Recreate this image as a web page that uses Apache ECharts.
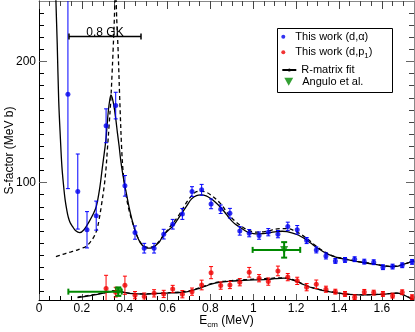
<!DOCTYPE html>
<html>
<head>
<meta charset="utf-8">
<script src="https://cdn.jsdelivr.net/npm/echarts@6/dist/echarts.min.js"></script>
<style>
  html, body { margin: 0; padding: 0; background: #fff; }
  #chart { width: 415px; height: 332px; }
</style>
</head>
<body>
<div id="chart"></div>
<script>
// ---- data ----
// This work (d,alpha)
var alphaE = [0.135,0.181,0.224,0.267,0.313,0.358,0.401,0.448,0.491,0.537,0.582,0.624,0.669,0.714,0.759,0.803,0.848,0.891,0.937,0.981,1.027,1.070,1.115,1.161,1.205,1.249,1.294,1.339,1.383,1.428,1.473,1.518,1.562,1.605,1.650,1.695,1.741];
var alphaS = [173,92.6,61,72.7,146.9,163.6,97.3,58.7,45.8,45.8,57.4,65.6,74.1,92.6,94,82.4,78,74.7,60.1,58.2,56.2,59,57.4,63.8,61,52.1,44.4,39.4,35.3,36.1,36.7,34.7,34.2,30.1,30.6,31.7,34.5];
var alphaErr = [78,31,15,12,14,11,8.5,5.5,4,4,4,4,4.5,4,4.5,4,3.5,4,3.5,3,3,3,3,3.5,3.5,2.5,2.5,2.5,2,2,2,2,2,2,2,2,2];

// This work (d,p1)
var protE = [0.313,0.358,0.401,0.448,0.491,0.537,0.582,0.624,0.669,0.714,0.759,0.803,0.848,0.891,0.937,0.981,1.027,1.070,1.115,1.161,1.205,1.249,1.294,1.339,1.383,1.428,1.473,1.518,1.562,1.605,1.650,1.695,1.741];
var protS = [12.4,9.5,15.2,7,5.8,8.5,8,12.1,7.8,9.9,15.4,25.6,14.9,15.4,17.7,25.9,21,18.2,27,21.9,18.8,13.6,16,11.9,9.9,8,5.3,9.7,9.1,8,6.6,9.4,5.3];
var protErr = [11,4,7.5,3,3,3,3,3,3,3,4,5,3,3,3,4,3,3,4,3,3,3,3.5,2.5,2,2,2,2,2,2,2,2,2];

// R-matrix fit (d,alpha), solid
var fitE = [0.072,0.079,0.085,0.092,0.1,0.107,0.115,0.122,0.13,0.136,0.145,0.157,0.17,0.19,0.21,0.234,0.25,0.267,0.283,0.296,0.305,0.312,0.318,0.324,0.33,0.336,0.342,0.35,0.358,0.366,0.374,0.381,0.39,0.4,0.41,0.42,0.433,0.447,0.46,0.474,0.49,0.505,0.52,0.535,0.55,0.563,0.58,0.6,0.622,0.645,0.667,0.69,0.712,0.735,0.757,0.78,0.8,0.822,0.845,0.867,0.888,0.91,0.933,0.955,0.978,1.0,1.023,1.045,1.067,1.09,1.112,1.135,1.157,1.18,1.2,1.222,1.245,1.268,1.29,1.313,1.335,1.357,1.378,1.4,1.423,1.468,1.513,1.557,1.6,1.645,1.67,1.69,1.715,1.735,1.75];
var fitS = [300,250,215,167.5,136,113,97,85.7,77,71.9,67,63.6,60.5,58.7,61,67.8,73,80,95,113,125,135,148,160,168,172.5,170,163,153,141,130,119,108,98,89,80,70,61,55,50,47,45.8,45.8,46.6,49,51.2,56.5,60,63.6,69,74.7,81,86.5,89.2,89.8,89,87,84,80,75.5,70.6,66.5,63.6,61,58.7,57.9,57.6,57.8,58.2,59,59.5,59.8,59.5,58.5,57.3,55.5,53,50,47,44.5,42,40.2,38.8,37.7,36.9,35.3,33.9,32.8,31.4,30.6,30.7,31.8,33.3,34.5,35.3];

// second fit (d,alpha), dashed
var dashE = [0.079,0.1,0.126,0.15,0.17,0.195,0.219,0.24,0.257,0.27,0.28,0.292,0.304,0.312,0.319,0.327,0.335,0.341,0.346,0.351,0.357,0.363,0.369,0.377,0.386,0.393,0.401,0.414,0.428,0.44,0.455,0.47,0.49,0.51,0.535,0.563,0.6,0.645,0.69,0.712,0.735,0.757,0.78,0.8,0.845,0.888,0.933,0.978,1.023,1.067,1.112,1.157,1.2,1.245,1.29,1.335,1.378,1.423,1.468,1.513,1.557,1.6,1.645,1.69,1.735,1.75];
var dashS = [38.8,40,41.6,42.8,43.8,45.5,47.1,51,55.4,61,69,82,96.7,110,127,147,168,190,210,232,262,234,210,168,127,108,96.7,82,72,65,57,51.5,47.5,46.5,47.3,52,61,71,84,89,92.5,93,92,90,83,73,65.5,60.5,59,60,61.8,62,59.5,54.5,48,42.5,39,37.2,35.5,34.1,33,31.6,30.8,31.9,34.6,35.4];

// R-matrix fit (d,p1)
var lowE = [0.18,0.22,0.26,0.3,0.33,0.36,0.39,0.42,0.46,0.5,0.56,0.61,0.656,0.7,0.749,0.78,0.8,0.842,0.89,0.935,0.98,1.028,1.07,1.1,1.144,1.17,1.2,1.237,1.28,1.33,1.38,1.423,1.47,1.516,1.56,1.609,1.64,1.67,1.7,1.74,1.75];
var lowS = [5,6,7.2,8.6,9.8,10.5,9.6,8.5,8,7.9,8.4,8.9,9.2,10.2,12.7,14.6,16,17.6,18.5,19,19.4,19.7,20.1,20.6,21,20.2,18.5,15.6,12.8,10.7,9.1,8,7.4,7.2,7.4,7.8,8.3,8.6,7.2,4,3.5];
var lowDashS = [5.5,6.5,7.6,9,10.2,10.8,9.8,8.7,8.2,8.1,8.6,9.1,9.5,10.6,13.1,15,16.4,18,19,19.6,20,20.4,20.8,21.2,21.4,20.5,18.8,15.9,13,10.9,9.3,8.2,7.5,7.3,7.5,7.9,8.4,8.7,7.3,4.1,3.6];

// Angulo et al.
var angE = [0.37, 1.144];
var angS = [9.9, 44.4];
var angElo = [0.137, 0.997];
var angEhi = [0.386, 1.219];
var angErr = [3.5, 6.4];

// 0.8 GK window
var gkRange = [0.14, 0.476];
var gkLevel = 220.7;
var gkLabel = '0.8 GK';

// axes
var xMin = 0, xMax = 1.75, yMin = 3, yMax = 250;
var xTicks = [0, 0.2, 0.4, 0.6, 0.8, 1, 1.2, 1.4, 1.6];
var xMinorTicks = [0.05,0.1,0.15,0.25,0.3,0.35,0.45,0.5,0.55,0.65,0.7,0.75,0.85,0.9,0.95,1.05,1.1,1.15,1.25,1.3,1.35,1.45,1.5,1.55,1.65,1.7];
var yTicks = [100, 200];
var yMinorTicks = [10,20,30,40,50,60,70,80,90,110,120,130,140,150,160,170,180,190,210,220,230,240];

var FONT = 'Liberation Sans, Arial, sans-serif';

var myChart = echarts.init(document.getElementById('chart'));

function errBars(color) {
  return function (params, api) {
    var x = api.value(0), y = api.value(1), e = api.value(2);
    var lo = api.coord([x, y - e]);
    var hi = api.coord([x, y + e]);
    var c = 2;
    var st = { stroke: color, lineWidth: 1 };
    return {
      type: 'group',
      children: [
        { type: 'line', shape: { x1: lo[0], y1: lo[1], x2: hi[0], y2: hi[1] }, style: st },
        { type: 'line', shape: { x1: lo[0] - c, y1: lo[1], x2: lo[0] + c, y2: lo[1] }, style: st },
        { type: 'line', shape: { x1: hi[0] - c, y1: hi[1], x2: hi[0] + c, y2: hi[1] }, style: st }
      ]
    };
  };
}

function xyErrBars(color) {
  return function (params, api) {
    var x = api.value(0), y = api.value(1);
    var l = api.coord([api.value(2), y]);
    var r = api.coord([api.value(3), y]);
    var e = api.value(4);
    var b = api.coord([x, y - e]);
    var t = api.coord([x, y + e]);
    var c = 3;
    var st = { stroke: color, lineWidth: 2 };
    return {
      type: 'group',
      children: [
        { type: 'line', shape: { x1: l[0], y1: l[1], x2: r[0], y2: r[1] }, style: st },
        { type: 'line', shape: { x1: l[0], y1: l[1] - c, x2: l[0], y2: l[1] + c }, style: st },
        { type: 'line', shape: { x1: r[0], y1: r[1] - c, x2: r[0], y2: r[1] + c }, style: st },
        { type: 'line', shape: { x1: b[0], y1: b[1], x2: t[0], y2: t[1] }, style: st },
        { type: 'line', shape: { x1: b[0] - c, y1: b[1], x2: b[0] + c, y2: b[1] }, style: st },
        { type: 'line', shape: { x1: t[0] - c, y1: t[1], x2: t[0] + c, y2: t[1] }, style: st }
      ]
    };
  };
}

function pairs(xs, ys) {
  return xs.map(function (x, i) { return [x, ys[i]]; });
}

function legendText(padLeft) {
  return {
    fontSize: 11, lineHeight: 14, color: '#000', fontFamily: FONT,
    padding: [0, 0, 0, padLeft],
    rich: {
      a: { fontSize: 11, lineHeight: 14, color: '#000', fontFamily: FONT },
      s: { fontSize: 8, lineHeight: 12, color: '#000', fontFamily: FONT, verticalAlign: 'bottom' }
    }
  };
}

function oneLegend(item, left, top, h, padLeft) {
  return {
    data: [item],
    orient: 'vertical',
    left: left,
    top: top,
    padding: 0,
    itemWidth: 14,
    itemHeight: h,
    itemGap: 0,
    selectedMode: false,
    textStyle: legendText(padLeft || 0),
    formatter: function (name) {
      if (name === 'This work (d,p1)') return '{a|This work (d,p}{s|1}{a|)}';
      return name;
    }
  };
}

function valueAxis(pos, extra) {
  var base = {
    type: 'value',
    position: pos,
    splitLine: { show: false },
    axisLine: { onZero: false, show: false },
    axisLabel: { show: false }
  };
  return Object.assign(base, extra);
}

var option = {
  animation: false,
  textStyle: { fontFamily: FONT },
  grid: { left: 39, right: 1, top: 1, bottom: 32, containLabel: false, outerBoundsMode: 'none' },
  xAxis: [
    valueAxis('bottom', {
      min: xMin, max: xMax,
      axisLine: { onZero: false, show: true, lineStyle: { color: '#000', width: 1 } },
      axisTick: { inside: true, length: 6, customValues: xTicks, lineStyle: { color: '#555' } },
      axisLabel: { show: true, customValues: xTicks, margin: 3, fontSize: 12, color: '#000', fontFamily: FONT },
      name: '{a|E}{s|cm}{a| (MeV)}',
      nameLocation: 'middle',
      nameGap: 13,
      nameMoveOverlap: false,
      nameTextStyle: {
        rich: {
          a: { fontSize: 12, lineHeight: 16, color: '#000', fontFamily: FONT },
          s: { fontSize: 8, lineHeight: 13, color: '#000', fontFamily: FONT, verticalAlign: 'bottom' }
        }
      }
    }),
    valueAxis('bottom', {
      min: xMin, max: xMax,
      axisTick: { inside: true, length: 4, customValues: xMinorTicks, lineStyle: { color: '#000' } }
    }),
    valueAxis('top', {
      min: xMin, max: xMax,
      axisLine: { onZero: false, show: true, lineStyle: { color: '#888', width: 1 } },
      axisTick: { inside: true, length: 8, customValues: xTicks, lineStyle: { color: '#444' } }
    }),
    valueAxis('top', {
      min: xMin, max: xMax,
      axisTick: { inside: true, length: 5, customValues: xMinorTicks, lineStyle: { color: '#444' } }
    })
  ],
  yAxis: [
    valueAxis('left', {
      min: yMin, max: yMax,
      axisLine: { onZero: false, show: true, lineStyle: { color: '#000', width: 1 } },
      axisTick: { inside: true, length: 8, customValues: yTicks, lineStyle: { color: '#666' } },
      axisLabel: { show: true, customValues: yTicks, margin: 3, fontSize: 12, color: '#000', fontFamily: FONT },
      name: 'S-factor (MeV b)',
      nameLocation: 'middle',
      nameGap: 23,
      nameMoveOverlap: false,
      nameTextStyle: { fontSize: 12, color: '#000', fontFamily: FONT }
    }),
    valueAxis('left', {
      min: yMin, max: yMax,
      axisTick: { inside: true, length: 5, customValues: yMinorTicks, lineStyle: { color: '#000' } }
    }),
    valueAxis('right', {
      min: yMin, max: yMax,
      axisLine: { onZero: false, show: true, lineStyle: { color: '#888', width: 1 } },
      axisTick: { inside: true, length: 8, customValues: yTicks, lineStyle: { color: '#666' } }
    }),
    valueAxis('right', {
      min: yMin, max: yMax,
      axisTick: { inside: true, length: 5, customValues: yMinorTicks, lineStyle: { color: '#444' } }
    })
  ],
  legend: [
    oneLegend({ name: 'This work (d,α)', icon: 'circle' }, 281.3, 29.7, 4),
    oneLegend({ name: 'This work (d,p1)', icon: 'circle' }, 281.3, 45.3, 4),
    oneLegend({ name: 'R-matrix fit' }, 281.3, 63, 4),
    oneLegend({ name: 'Angulo et al.', icon: 'path://M0,0L10,0L5,9Z' }, 284.3, 74.7, 8, 1.5)
  ],
  graphic: [
    { type: 'rect', left: 277, top: 28, shape: { width: 115, height: 64 },
      style: { fill: '#fff', stroke: '#000', lineWidth: 1 }, z: 3 }
  ],
  series: [
    {
      name: 'R-matrix fit', type: 'line', data: pairs(fitE, fitS),
      symbol: 'none', smooth: 0.35, clip: true,
      lineStyle: { color: '#000', width: 1.3 }, itemStyle: { color: '#000' }, z: 2
    },
    {
      name: 'fit dashed', type: 'line', data: pairs(dashE, dashS),
      symbol: 'none', smooth: 0.35, clip: true,
      lineStyle: { color: '#000', width: 1.3, type: [4, 3] }, z: 2
    },
    {
      name: 'fit (d,p1)', type: 'line', data: pairs(lowE, lowS),
      symbol: 'none', smooth: 0.35, clip: true,
      lineStyle: { color: '#000', width: 1.3 }, z: 2
    },
    {
      name: 'fit (d,p1) dashed', type: 'line', data: pairs(lowE, lowDashS),
      symbol: 'none', smooth: 0.35, clip: true,
      lineStyle: { color: '#000', width: 1.2, type: [4, 3] }, z: 2
    },
    {
      name: 'alpha err', type: 'custom', renderItem: errBars('#0000ff'), clip: true,
      data: alphaE.map(function (e, i) { return [e, alphaS[i], alphaErr[i]]; }), z: 3
    },
    {
      name: 'This work (d,α)', type: 'scatter', data: pairs(alphaE, alphaS),
      symbol: 'circle', symbolSize: 5, itemStyle: { color: '#0000ee' }, z: 4
    },
    {
      name: 'p1 err', type: 'custom', renderItem: errBars('#ff0000'), clip: true,
      data: protE.map(function (e, i) { return [e, protS[i], protErr[i]]; }), z: 3
    },
    {
      name: 'This work (d,p1)', type: 'scatter', data: pairs(protE, protS),
      symbol: 'circle', symbolSize: 5, itemStyle: { color: '#ee0000' }, z: 4
    },
    {
      name: 'Angulo err', type: 'custom', renderItem: xyErrBars('#008800'), clip: true,
      data: angE.map(function (e, i) { return [e, angS[i], angElo[i], angEhi[i], angErr[i]]; }), z: 5
    },
    {
      name: 'Angulo et al.', type: 'scatter', data: pairs(angE, angS),
      symbol: 'triangle', symbolRotate: 180, symbolSize: 8,
      itemStyle: { color: '#008800' }, z: 6
    },
    {
      name: 'GK window', type: 'custom', z: 5,
      data: [[gkRange[0], gkRange[1], gkLevel]],
      renderItem: function (params, api) {
        var l = api.coord([api.value(0), api.value(2)]);
        var r = api.coord([api.value(1), api.value(2)]);
        var st = { stroke: '#000', lineWidth: 1.5 };
        return {
          type: 'group',
          children: [
            { type: 'line', shape: { x1: l[0], y1: l[1], x2: r[0], y2: r[1] }, style: st },
            { type: 'line', shape: { x1: l[0], y1: l[1] - 3, x2: l[0], y2: l[1] + 3 }, style: st },
            { type: 'line', shape: { x1: r[0], y1: r[1] - 3, x2: r[0], y2: r[1] + 3 }, style: st },
            { type: 'text', x: (l[0] + r[0]) / 2, y: l[1] + 2,
              style: { text: gkLabel, fill: '#000', font: '12px ' + FONT, align: 'center', verticalAlign: 'bottom' } }
          ]
        };
      }
    }
  ]
};

myChart.setOption(option);
</script>
</body>
</html>
